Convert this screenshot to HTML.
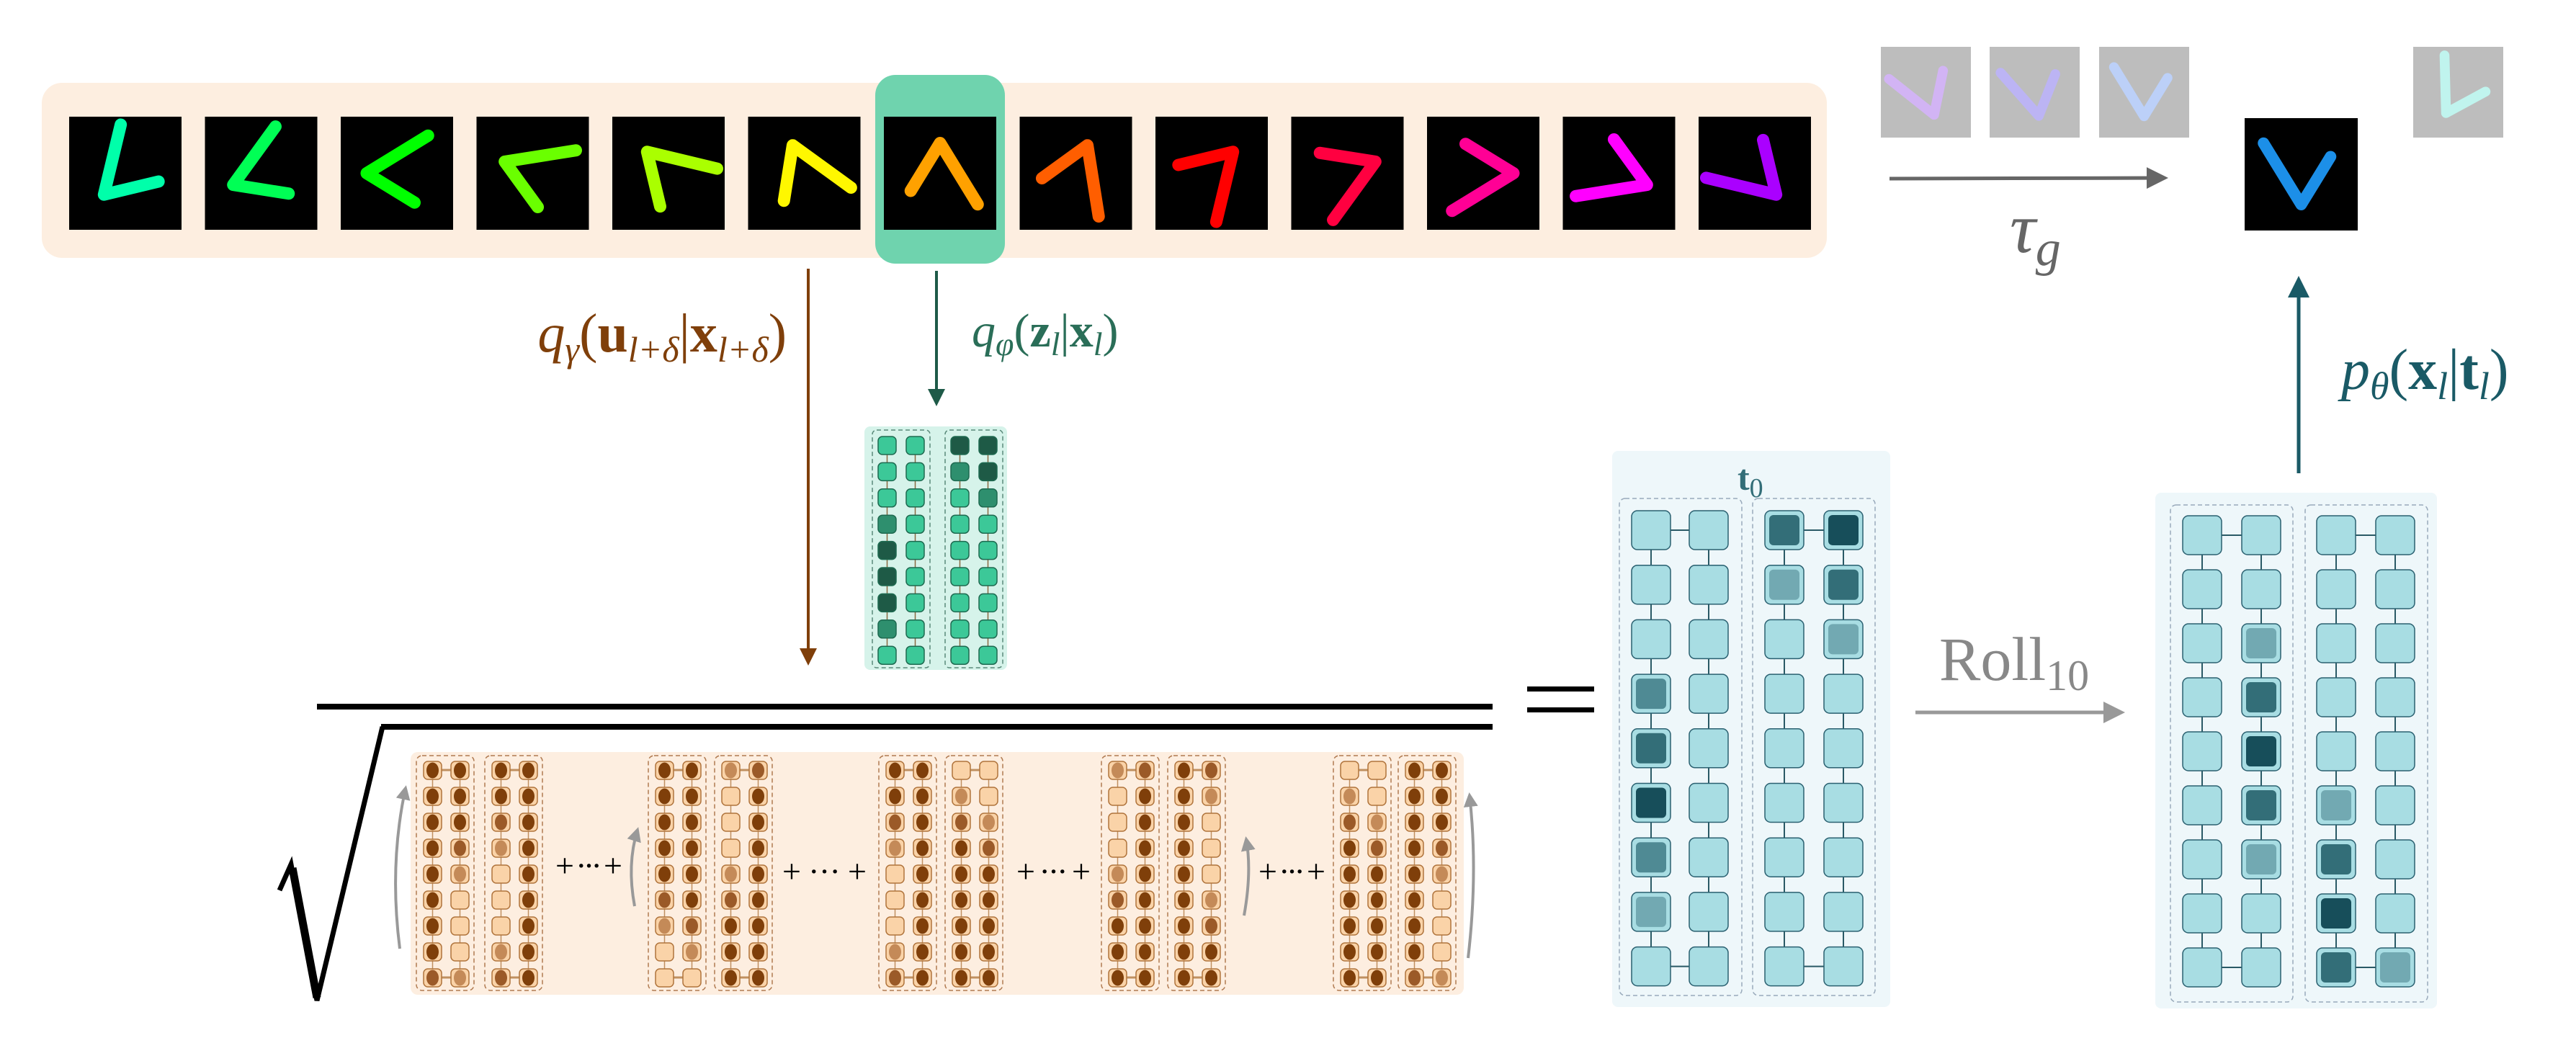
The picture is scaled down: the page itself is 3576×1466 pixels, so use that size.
<!DOCTYPE html>
<html><head><meta charset="utf-8">
<style>
html,body{margin:0;padding:0;background:#fff;}
svg{display:block;}
text{font-family:"Liberation Serif",serif;}
</style></head>
<body>
<svg id="fig" width="3576" height="1466" viewBox="0 0 3576 1466" xmlns="http://www.w3.org/2000/svg">
<defs>
<marker id="ahBrown" markerWidth="6" markerHeight="6" refX="5" refY="3" orient="auto" markerUnits="strokeWidth"><path d="M0,0 L6,3 L0,6 Z" fill="#7f3f0a"/></marker>
<marker id="ahGreen" markerWidth="6" markerHeight="6" refX="5" refY="3" orient="auto" markerUnits="strokeWidth"><path d="M0,0 L6,3 L0,6 Z" fill="#1e5a48"/></marker>
<marker id="ahTeal" markerWidth="6" markerHeight="6" refX="5" refY="3" orient="auto" markerUnits="strokeWidth"><path d="M0,0 L6,3 L0,6 Z" fill="#1a5a66"/></marker>
<marker id="ahDark" markerWidth="6" markerHeight="6" refX="5" refY="3" orient="auto" markerUnits="strokeWidth"><path d="M0,0 L6,3 L0,6 Z" fill="#666"/></marker>
<marker id="ahGray" markerWidth="6" markerHeight="6" refX="5" refY="3" orient="auto" markerUnits="strokeWidth"><path d="M0,0 L6,3 L0,6 Z" fill="#999"/></marker>
<marker id="ahCurve" markerWidth="5" markerHeight="5" refX="4" refY="2.5" orient="auto" markerUnits="strokeWidth"><path d="M0,0 L5,2.5 L0,5 Z" fill="#999"/></marker>
</defs>

<rect x="58" y="115" width="2478" height="243" rx="28" fill="#fdeee0"/>
<rect x="1215" y="104" width="180" height="262" rx="28" fill="#6fd3ae"/>
<g id="frames"></g>

<g id="faded"></g>
<line x1="2623" y1="248" x2="3005" y2="247" stroke="#666" stroke-width="5" marker-end="url(#ahDark)"/>
<text x="2790" y="350" font-size="100" font-style="italic" fill="#666">τ<tspan font-size="70" dy="18">g</tspan></text>

<line x1="1122" y1="373" x2="1122" y2="920" stroke="#7f3f0a" stroke-width="4" marker-end="url(#ahBrown)"/>
<text x="1092" y="488" text-anchor="end" font-size="76" fill="#7f3f0a"><tspan font-style="italic">q</tspan><tspan font-size="50" dy="14" font-style="italic">γ</tspan><tspan dy="-14">(</tspan><tspan font-weight="bold">u</tspan><tspan font-size="50" dy="14" font-style="italic">l+δ</tspan><tspan dy="-14">|</tspan><tspan font-weight="bold">x</tspan><tspan font-size="50" dy="14" font-style="italic">l+δ</tspan><tspan dy="-14">)</tspan></text>

<line x1="1300" y1="376" x2="1300" y2="560" stroke="#1e5a48" stroke-width="4" marker-end="url(#ahGreen)"/>
<text x="1349" y="481" font-size="66" fill="#2a6e58"><tspan font-style="italic">q</tspan><tspan font-size="46" dy="12" font-style="italic">φ</tspan><tspan dy="-12">(</tspan><tspan font-weight="bold">z</tspan><tspan font-size="46" dy="12" font-style="italic">l</tspan><tspan dy="-12">|</tspan><tspan font-weight="bold">x</tspan><tspan font-size="46" dy="12" font-style="italic">l</tspan><tspan dy="-12">)</tspan></text>

<line x1="3191" y1="657" x2="3191" y2="388" stroke="#1a5a66" stroke-width="5" marker-end="url(#ahTeal)"/>
<text x="3250" y="540" font-size="80" fill="#1a5a66"><tspan font-style="italic">p</tspan><tspan font-size="54" dy="14" font-style="italic">θ</tspan><tspan dy="-14">(</tspan><tspan font-weight="bold">x</tspan><tspan font-size="54" dy="14" font-style="italic">l</tspan><tspan dy="-14">|</tspan><tspan font-weight="bold">t</tspan><tspan font-size="54" dy="14" font-style="italic">l</tspan><tspan dy="-14">)</tspan></text>

<rect x="1200" y="592" width="198" height="338" rx="8" fill="#d6f3ea"/>
<g id="greenCells"></g>

<rect x="440" y="977" width="1632" height="8" fill="#000"/>
<rect x="529" y="1005" width="1543" height="8" fill="#000"/>
<polyline points="388,1236 404,1200 440,1389 531,1009" fill="none" stroke="#000" stroke-width="7" stroke-linejoin="miter"/>
<line x1="406" y1="1205" x2="440" y2="1385" stroke="#000" stroke-width="11"/>
<rect x="570" y="1044" width="1462" height="337" rx="10" fill="#fdeee0"/>
<g id="brownCells"></g>
<g id="curves"></g>

<rect x="2120" y="953" width="93" height="7" fill="#000"/>
<rect x="2120" y="982" width="93" height="7" fill="#000"/>

<rect x="2238" y="626" width="386" height="772" rx="8" fill="#eef7fa"/>
<text x="2412" y="680" font-size="50" font-weight="bold" fill="#336e78">t<tspan font-size="38" font-weight="normal" dy="10">0</tspan></text>
<g id="t0Cells"></g>

<text x="2692" y="944" font-size="86" fill="#888">Roll<tspan font-size="60" dy="14">10</tspan></text>
<line x1="2659" y1="989" x2="2945" y2="989" stroke="#999" stroke-width="5" marker-end="url(#ahGray)"/>

<rect x="2992" y="684" width="391" height="716" rx="8" fill="#eef7fa"/>
<g id="tlCells"></g>
</svg>
<script>
const NS='http://www.w3.org/2000/svg';
function mk(tag,attrs,parent){const e=document.createElementNS(NS,tag);for(const k in attrs)e.setAttribute(k,attrs[k]);parent.appendChild(e);return e;}

const frameHues=[160,140,120,95,80,58,38,22,0,345,325,300,280];
const frameAngles=[135,157.5,180,202.5,225,247.5,270,292.5,315,337.5,360,382.5,405];
const fadedColors=['#d2b4f4','#bcb4f4','#bcd0f8','#c0f4ee'];
const fadedAngles=[70,80,90,120];
const greenLevels=[[[0,0,0,1,2,2,2,1,0],[0,0,0,0,0,0,0,0,0]],[[2,1,0,0,0,0,0,0,0],[2,2,1,0,0,0,0,0,0]]];
const t0Levels=[[[0,0,0,2,3,4,2,1,0],[0,0,0,0,0,0,0,0,0]],[[3,1,0,0,0,0,0,0,0],[4,3,1,0,0,0,0,0,0]]];
const tlLevels=[[[0,0,0,0,0,0,0,0,0],[0,0,1,3,4,3,1,0,0]],[[0,0,0,0,0,1,3,4,3],[0,0,0,0,0,0,0,0,1]]];
const brownLevels=[
 [[[3,3],[3,3],[3,3],[3,2],[3,1],[3,0],[3,0],[3,0],[2,1]],[[3,3],[3,3],[2,3],[1,3],[0,3],[0,3],[0,3],[1,3],[2,3]]],
 [[[3,3],[3,3],[3,3],[3,3],[3,3],[2,3],[1,2],[0,1],[0,0]],[[1,2],[0,3],[0,3],[0,3],[1,3],[2,3],[3,3],[3,3],[3,3]]],
 [[[3,3],[3,3],[2,3],[1,3],[0,3],[0,3],[0,3],[1,3],[2,3]],[[0,0],[1,0],[2,1],[3,2],[3,3],[3,3],[3,3],[3,3],[3,3]]],
 [[[1,2],[0,3],[0,3],[0,3],[1,3],[2,3],[3,3],[3,3],[3,3]],[[3,2],[3,1],[3,0],[3,0],[3,0],[3,1],[3,2],[3,3],[3,3]]],
 [[[0,0],[1,0],[2,1],[3,2],[3,3],[3,3],[3,3],[3,3],[3,3]],[[3,3],[3,3],[3,3],[3,2],[3,1],[3,0],[3,0],[3,0],[2,1]]]
];

function drawV(g,x,y,w,h,ang,color,sw){
  const cx=x+w/2,cy=y+h/2,a=ang*Math.PI/180;
  const vx=cx+42*Math.cos(a),vy=cy+42*Math.sin(a);
  const b=a+Math.PI;
  const a1=b-0.55,a2=b+0.55;
  const p1=[vx+100*Math.cos(a1),vy+100*Math.sin(a1)],p2=[vx+78*Math.cos(a2),vy+78*Math.sin(a2)];
  const pl=mk('polyline',{points:`${p1[0]},${p1[1]} ${vx},${vy} ${p2[0]},${p2[1]}`,fill:'none',stroke:color,'stroke-width':sw,'stroke-linecap':'round','stroke-linejoin':'round'},g);
  
  
}
const fg=document.getElementById('frames');
frameHues.forEach((hue,i)=>{
  const x=96+i*188.5,y=162;
  const g=mk('g',{},fg);
  
  
  mk('rect',{x:x,y:y,width:156,height:157,fill:'#000'},g);
  drawV(g,x,y,156,157,frameAngles[i],`hsl(${hue},100%,50%)`,17);
});
{const g=mk('g',{},fg);
 
 
 mk('rect',{x:3116,y:164,width:157,height:156,fill:'#000'},g);
 drawV(g,3116,164,157,156,90,'#1c8fe8',16);}
const fadedX=[2611,2762,2914,3350];
const fd=document.getElementById('faded');
fadedColors.forEach((c,i)=>{
  const g=mk('g',{},fd);
  
  
  mk('rect',{x:fadedX[i],y:65,width:125,height:126,fill:'#bdbdbd'},g);
  const gg=mk('g',{transform:`translate(${fadedX[i]},65) scale(0.8)`},g);
  drawV(gg,0,0,156,157,fadedAngles[i],c,17);
});

const gc=document.getElementById('greenCells');
const greenPanelX=[1211,1312];
const greenFill=['#3cc898','#2e8f6e','#1e5a46'];
greenLevels.forEach((panel,p)=>{
  const r=mk('rect',{x:greenPanelX[p],y:597,width:80,height:330,rx:6,fill:'none',stroke:'#5a8a7a','stroke-width':1.5,'stroke-dasharray':'6 4'},gc);
  
  
  panel.forEach((col,c)=>{
    const cx=greenPanelX[p]+8+c*39;
    mk('line',{x1:cx+12.5,y1:618,x2:cx+12.5,y2:618+8*36.4,stroke:'#8a6a40','stroke-width':1.5},gc);
    col.forEach((lv,ri)=>{
      const y=606+ri*36.4;
      const cell=mk('rect',{x:cx,y:y,width:25,height:25,rx:6,fill:greenFill[lv],stroke:'#1e6a50','stroke-width':1.5},gc);
      
      
    });
  });
});

const tealFill=['#a8dde3','#72a9b2','#4f8a94','#336e78','#174e5a'];
function drawTeal(gid,levels,panelX,panelY,panelH,cellX0,rowY0,step,name){
  const g=document.getElementById(gid);
  levels.forEach((panel,p)=>{
    const r=mk('rect',{x:panelX[p],y:panelY,width:170,height:panelH,rx:8,fill:'none',stroke:'#9ab','stroke-width':1.5,'stroke-dasharray':'6 4'},g);
    
    
    const xs=[cellX0[p*2],cellX0[p*2+1]];
    xs.forEach(x=>mk('line',{x1:x+27,y1:rowY0+27,x2:x+27,y2:rowY0+8*step+27,stroke:'#2a5a66','stroke-width':2},g));
    [0,8].forEach(ri=>mk('line',{x1:xs[0]+27,y1:rowY0+ri*step+27,x2:xs[1]+27,y2:rowY0+ri*step+27,stroke:'#2a5a66','stroke-width':2},g));
    panel.forEach((col,c)=>{
      col.forEach((lv,ri)=>{
        const x=xs[c],y=rowY0+ri*step;
        const cell=mk('rect',{x:x,y:y,width:54,height:54,rx:8,fill:tealFill[0],stroke:'#2a6070','stroke-width':1.5},g);
        
        
        if(lv>0){mk('rect',{x:x+6,y:y+6,width:42,height:42,rx:6,fill:tealFill[lv]},g);}
      });
    });
  });
}
drawTeal('t0Cells',t0Levels,[2248,2433],692,690,[2265,2345,2450,2532],709,75.7,'t0');
drawTeal('tlCells',tlLevels,[3013,3200],701,690,[3030,3112,3216,3298],716,75,'tl');

const bc=document.getElementById('brownCells');
const brownA=[578,900,1220,1529,1851],brownB=[673,992,1312,1621,1941];
const brownFill=[null,'#c48a58','#9b5a28','#7f3f0a'];
brownLevels.forEach((grp,gi)=>{
  [brownA[gi],brownB[gi]].forEach((px,p)=>{
    const r=mk('rect',{x:px,y:1049,width:80,height:326,rx:8,fill:'none',stroke:'#b07a50','stroke-width':1.5,'stroke-dasharray':'6 4'},bc);
    
    
    const xs=[px+10,px+48];
    xs.forEach(x=>mk('line',{x1:x+12.5,y1:1069,x2:x+12.5,y2:1069+8*36,stroke:'#c09060','stroke-width':1.5},bc));
    [0,8].forEach(ri=>mk('line',{x1:xs[0]+12,y1:1069+ri*36,x2:xs[1]+12,y2:1069+ri*36,stroke:'#c09060','stroke-width':3},bc));
    grp[p].forEach((row,ri)=>{
      row.forEach((lv,c)=>{
        const x=xs[c],y=1057+ri*36;
        const cell=mk('rect',{x:x,y:y,width:25,height:25,rx:6,fill:'#fad3a8',stroke:'#b0743c','stroke-width':1.5},bc);
        
        
        if(lv>0)mk('ellipse',{cx:x+12.5,cy:y+12.5,rx:8.5,ry:11,fill:brownFill[lv]},bc);
      });
    });
  });
});
const plusX=[[781,854,1205],[1096,1193,1213],[1421,1504,1213],[1757,1830,1213]];
plusX.forEach(p=>{
  const t=mk('text',{x:(p[0]+p[1])/2,y:p[2]+12,'text-anchor':'middle','font-size':46,fill:'#000'},bc);
  t.textContent='+ ··· +';
  
  
  t.setAttribute('textLength',p[1]-p[0]+20);
});
const cv=document.getElementById('curves');
[[555,1317,540,1200,563,1094],[881,1258,870,1200,885,1152],[1727,1271,1738,1210,1730,1165],[2038,1330,2052,1210,2040,1104]].forEach(a=>{
  const p=mk('path',{d:`M${a[0]},${a[1]} Q${a[2]},${a[3]} ${a[4]},${a[5]}`,fill:'none',stroke:'#999','stroke-width':4,'marker-end':'url(#ahCurve)'},cv);
  
  
});
</script>
</body></html>
